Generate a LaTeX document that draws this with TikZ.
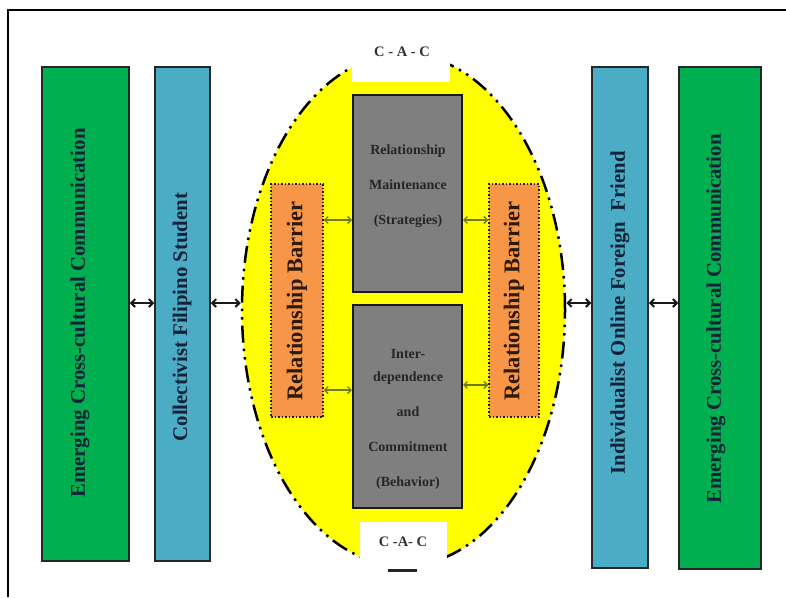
\documentclass[tikz,border=0pt]{standalone}
\usepackage{fontspec}
\setmainfont{Liberation Serif}
\usetikzlibrary{shapes.geometric,arrows.meta}
\definecolor{gbox}{HTML}{00B050}
\definecolor{bbox}{HTML}{4BACC6}
\definecolor{obox}{HTML}{F79646}
\definecolor{graybox}{HTML}{7F7F7F}
\definecolor{ylw}{HTML}{FFFF00}
\definecolor{navytxt}{HTML}{142238}
\definecolor{brtxt}{HTML}{2E1A0A}
\definecolor{olivearr}{HTML}{6E7A1E}
\tikzset{
  colbox/.style={draw=black!85, line width=1.5pt, inner sep=0pt, minimum width=#1},
  vtext/.style={rotate=90, font=\bfseries\fontsize{20.8}{21}\selectfont, text=navytxt, inner sep=0pt},
  btext/.style={rotate=90, font=\bfseries\fontsize{22.5}{23}\selectfont, text=brtxt, inner sep=0pt},
  grayrect/.style={draw=black!90, line width=2pt, fill=graybox, inner sep=0pt, minimum width=109pt},
  barrier/.style={draw=brtxt, line width=1.5pt, dotted, fill=obox, inner sep=0pt, minimum width=#1, minimum height=233pt},
  gtext/.style={font=\bfseries\fontsize{14}{14}\selectfont, text=black!85, align=center, inner sep=0pt},
  bigarrow/.style={{Straight Barb[length=4pt,width=8pt]}-{Straight Barb[length=4pt,width=8pt]}, line width=2pt, black!90},
  smallarrow/.style={{Straight Barb[length=3.5pt,width=7pt]}-{Straight Barb[length=3.5pt,width=7pt]}, line width=1.3pt, olivearr},
  cac/.style={font=\bfseries\fontsize{14.5}{14.5}\selectfont, text=black!80, inner sep=0pt}
}
\begin{document}
\begin{tikzpicture}[x=1pt,y=-1pt]
\useasboundingbox (0,0) rectangle (786,597);
% frame (top and left edges visible)
\coordinate (fA) at (786,10);
\coordinate (fB) at (8,10);
\coordinate (fC) at (8,597);
\draw[line width=2.5pt, black] (fA) -- (fB) -- (fC);

% central ellipse
\node[ellipse, fill=ylw, draw=black, line width=2.5pt, inner sep=0pt,
  minimum width=323pt, minimum height=512pt,
  dash pattern=on 17pt off 6pt on 2.5pt off 6pt on 2.5pt off 6pt] (ell) at (403.5,310) {};

% white label patches
\node[fill=white, inner sep=0pt, minimum width=98pt, minimum height=47pt] (topw) at (401,58.5) {};
\node[cac] (toplab) at (402,52) {C - A - C};
\node[fill=white, inner sep=0pt, minimum width=87pt, minimum height=52pt] (botw) at (403.5,548) {};
\node[cac] (botlab) at (403,542) {C -A- C};
\coordinate (dashL) at (388,570);
\coordinate (dashR) at (417,570);
\draw[line width=3pt, black!85] (dashL) -- (dashR);

% side columns
\node[colbox=87pt, fill=gbox, minimum height=494pt] (lgreen) at (85.5,314) {};
\node[vtext] (lgreentxt) at (80,313) {Emerging Cross-cultural Communication};
\node[colbox=55pt, fill=bbox, minimum height=494pt] (lblue) at (182.5,314) {};
\node[vtext] (lbluetxt) at (182,317) {Collectivist Filipino Student};
\node[colbox=56pt, fill=bbox, minimum height=501pt] (rblue) at (620,317.5) {};
\node[vtext] (rbluetxt) at (620,313) {Individualist Online Foreign\ \ Friend};
\node[colbox=82pt, fill=gbox, minimum height=502pt] (rgreen) at (720,318) {};
\node[vtext] (rgreentxt) at (716,319) {Emerging Cross-cultural Communication};

% gray boxes
\node[grayrect, minimum height=197pt] (gtop) at (407.5,193.5) {};
\node[gtext] (gtoptxt) at (408,186.5) {Relationship\\[21pt]Maintenance\\[21pt](Strategies)};
\node[grayrect, minimum height=203pt] (gbot) at (407.5,406.5) {};
\node[gtext] (gbottxt) at (408,419) {Inter-\\[9pt]dependence\\[21pt]and\\[21pt]Commitment\\[21pt](Behavior)};

% barrier boxes
\node[barrier=52pt] (oleft) at (297,300.5) {};
\node[btext] (olefttxt) at (297,301) {Relationship Barrier};
\node[barrier=50pt] (oright) at (514,300.5) {};
\node[btext] (orighttxt) at (514,301) {Relationship Barrier};

% arrow levels
\coordinate (ya) at (0,303);
\coordinate (yb) at (0,220);
\coordinate (yc) at (0,390);
\coordinate (yd) at (0,385);

\draw[bigarrow] (lgreen.east |- ya) -- (lblue.west |- ya);
\draw[bigarrow] (lblue.east |- ya) -- (ell.west |- ya);
\draw[bigarrow] (ell.east |- ya) -- (rblue.west |- ya);
\draw[bigarrow] (rblue.east |- ya) -- (rgreen.west |- ya);

\draw[smallarrow] (oleft.east |- yb) -- (gtop.west |- yb);
\draw[smallarrow] (gtop.east |- yb) -- (oright.west |- yb);
\draw[smallarrow] (oleft.east |- yc) -- (gbot.west |- yc);
\draw[smallarrow] (gbot.east |- yd) -- (oright.west |- yd);
\end{tikzpicture}
\end{document}
